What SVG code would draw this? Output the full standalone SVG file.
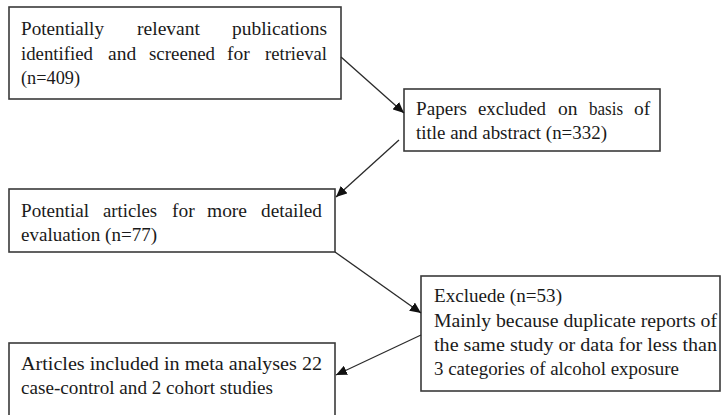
<svg xmlns="http://www.w3.org/2000/svg" width="722" height="415" viewBox="0 0 722 415">
<style>
.box{fill:#fff;stroke:#3a3a3a;stroke-width:1.6}
.t{font-family:"Liberation Serif","Times New Roman",serif;font-size:19.5px;fill:#1a1a1a}
.c{stroke:#2a2a2a;stroke-width:1.3;fill:none;marker-end:url(#ah)}
</style>
<defs>
<marker id="ah" markerUnits="userSpaceOnUse" markerWidth="12" markerHeight="10" refX="11" refY="5" orient="auto">
<path d="M0,0 L11,5 L0,10 Z" fill="#111"/>
</marker>
</defs>
<rect width="722" height="415" fill="#fff"/>
<g id="n1">
<rect class="box" x="9" y="7" width="332" height="92"/>
<text class="t" x="21" y="35" textLength="83" lengthAdjust="spacingAndGlyphs">Potentially</text>
<text class="t" x="137" y="35" textLength="63" lengthAdjust="spacingAndGlyphs">relevant</text>
<text class="t" x="232" y="35" textLength="95" lengthAdjust="spacingAndGlyphs">publications</text>
<text class="t" x="21" y="60" textLength="72" lengthAdjust="spacingAndGlyphs">identified</text>
<text class="t" x="108" y="60">and</text>
<text class="t" x="149" y="60" textLength="66" lengthAdjust="spacingAndGlyphs">screened</text>
<text class="t" x="227" y="60">for</text>
<text class="t" x="265" y="60" textLength="62" lengthAdjust="spacingAndGlyphs">retrieval</text>
<text class="t" x="21" y="84" textLength="59" lengthAdjust="spacingAndGlyphs">(n=409)</text>
</g>
<g id="n2">
<rect class="box" x="404" y="89" width="256" height="62"/>
<text class="t" x="416" y="115" textLength="51" lengthAdjust="spacingAndGlyphs">Papers</text>
<text class="t" x="478" y="115" textLength="68" lengthAdjust="spacingAndGlyphs">excluded</text>
<text class="t" x="558" y="115">on</text>
<text class="t" x="589" y="115" textLength="34" lengthAdjust="spacingAndGlyphs">basis</text>
<text class="t" x="634" y="115">of</text>
<text class="t" x="416" y="139" textLength="191" lengthAdjust="spacingAndGlyphs">title and abstract (n=332)</text>
</g>
<g id="n3">
<rect class="box" x="9" y="189" width="326" height="63"/>
<text class="t" x="21" y="217" textLength="68" lengthAdjust="spacingAndGlyphs">Potential</text>
<text class="t" x="103" y="217" textLength="54" lengthAdjust="spacingAndGlyphs">articles</text>
<text class="t" x="172" y="217">for</text>
<text class="t" x="207" y="217" textLength="40" lengthAdjust="spacingAndGlyphs">more</text>
<text class="t" x="261" y="217" textLength="61" lengthAdjust="spacingAndGlyphs">detailed</text>
<text class="t" x="21" y="241" textLength="136" lengthAdjust="spacingAndGlyphs">evaluation (n=77)</text>
</g>
<g id="n4">
<rect class="box" x="421" y="276" width="299" height="115"/>
<text class="t" x="434" y="302" textLength="128" lengthAdjust="spacingAndGlyphs">Excluede (n=53)</text>
<text class="t" x="434" y="327" textLength="283" lengthAdjust="spacingAndGlyphs">Mainly because duplicate reports of</text>
<text class="t" x="434" y="351" textLength="283" lengthAdjust="spacingAndGlyphs">the same study or data for less than</text>
<text class="t" x="434" y="375" textLength="245" lengthAdjust="spacingAndGlyphs">3 categories of alcohol exposure</text>
</g>
<g id="n5">
<rect class="box" x="9" y="343" width="326" height="90"/>
<text class="t" x="21" y="370" textLength="301" lengthAdjust="spacingAndGlyphs">Articles included in meta analyses 22</text>
<text class="t" x="21" y="394" textLength="252" lengthAdjust="spacingAndGlyphs">case-control and 2 cohort studies</text>
</g>
<g id="connectors">
<line class="c" x1="341" y1="57" x2="404" y2="113"/>
<line class="c" x1="399" y1="140" x2="336" y2="197"/>
<line class="c" x1="335" y1="252" x2="421" y2="313"/>
<line class="c" x1="421" y1="335" x2="336" y2="375"/>
</g>
</svg>
